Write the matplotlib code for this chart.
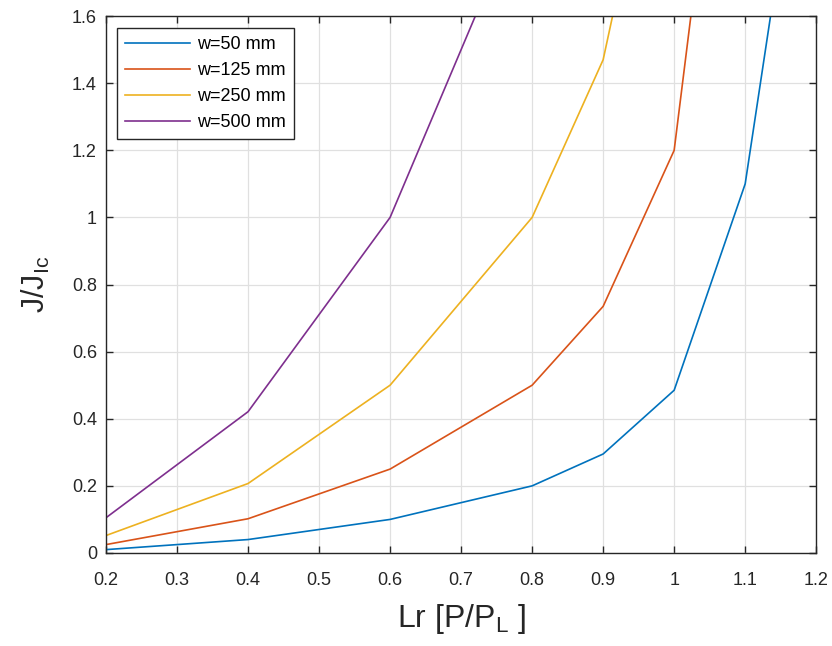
import matplotlib.pyplot as plt
from matplotlib.ticker import FuncFormatter

# Lr values where the curves were sampled
lr = [0.2, 0.4, 0.6, 0.8, 0.9, 1.0, 1.1, 1.2]

# J/J_Ic for each width (last point lies above the visible range)
j_w50 = [0.010, 0.040, 0.100, 0.200, 0.295, 0.485, 1.10, 2.50]
j_w125 = [0.025, 0.102, 0.250, 0.500, 0.735, 1.20, 2.90]
j_w250 = [0.052, 0.207, 0.500, 1.00, 1.47, 2.45]
j_w500 = [0.105, 0.421, 1.00, 2.00]

labels = ["w=50 mm", "w=125 mm", "w=250 mm", "w=500 mm"]
colors = ["#0072BD", "#D95319", "#EDB120", "#7E2F8E"]

plt.rcParams['font.family'] = ['Liberation Sans', 'DejaVu Sans']
plt.rcParams['mathtext.fontset'] = 'custom'
plt.rcParams['mathtext.rm'] = 'Liberation Sans'
plt.rcParams['mathtext.it'] = 'Liberation Sans'

fig = plt.figure(figsize=(8.32, 6.46), dpi=100)
ax = fig.add_axes([0.1274, 0.144, 0.8536, 0.831])

for vals, lab, col in zip([j_w50, j_w125, j_w250, j_w500], labels, colors):
    ax.plot(lr[:len(vals)], vals, color=col, lw=1.2, label=lab)

ax.set_xlim(0.2, 1.2)
ax.set_ylim(0, 1.6)
ax.set_xticks([0.2, 0.3, 0.4, 0.5, 0.6, 0.7, 0.8, 0.9, 1.0, 1.1, 1.2])
ax.set_yticks([0, 0.2, 0.4, 0.6, 0.8, 1.0, 1.2, 1.4, 1.6])
fmt = FuncFormatter(lambda v, p: f"{v:g}")
ax.xaxis.set_major_formatter(fmt)
ax.yaxis.set_major_formatter(fmt)

ax.grid(True, color='#e0e0e0', lw=0.9)
ax.set_axisbelow(True)
ax.tick_params(direction='in', length=5, width=1, top=True, right=True,
               labelsize=13, colors='#262626')
ax.tick_params(axis='x', pad=14)
ax.tick_params(axis='y', pad=6.5)
for sp in ax.spines.values():
    sp.set_color('#262626')
    sp.set_linewidth(1)

ax.set_xlabel(r'Lr [P/P$_\mathrm{L}$ ]', fontsize=23, color='#262626', labelpad=9)
ax.set_ylabel(r'J/J$_\mathrm{Ic}$', fontsize=22, color='#262626', labelpad=14)

leg = ax.legend(loc='upper left', bbox_to_anchor=(0.0155, 0.978), fontsize=13,
                handlelength=3.6, fancybox=False, framealpha=1,
                edgecolor='#262626', borderpad=0.45, labelspacing=0.5,
                handletextpad=0.4, borderaxespad=0)
leg.get_frame().set_linewidth(1)

fig.savefig("out.png", dpi=100)
